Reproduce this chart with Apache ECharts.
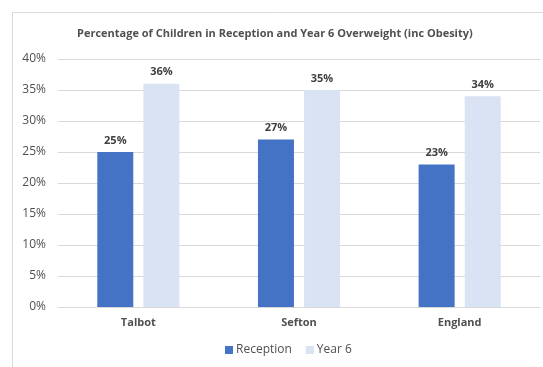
<!DOCTYPE html>
<html>
<head>
<meta charset="utf-8">
<script src="https://cdn.jsdelivr.net/npm/echarts@6/dist/echarts.min.js"></script>
<style>
  html, body { margin: 0; padding: 0; background: #ffffff; }
  #chart { width: 543px; height: 367px; }
</style>
</head>
<body>
<div id="chart"></div>
<script>
// Child weight data by area
const areas = ['Talbot', 'Sefton', 'England'];
const reception = [25, 27, 23];
const year6 = [36, 35, 34];
const seriesNames = ['Reception', 'Year 6'];
const yTicks = { min: 0, max: 40, step: 5 };

const FONT = '"Open Sans", "Liberation Sans", sans-serif';
const chart = echarts.init(document.getElementById('chart'), null, { renderer: 'canvas' });

const labelStyle = {
  show: true,
  position: 'top',
  distance: 6,
  formatter: p => p.value + '%',
  fontFamily: FONT,
  fontWeight: 'bold',
  fontSize: 11,
  color: '#404040'
};

chart.setOption({
  backgroundColor: '#ffffff',
  animation: false,
  title: {
    text: 'Percentage of Children in Reception and Year 6 Overweight (inc Obesity)',
    left: 72,
    top: 23,
    textStyle: { fontFamily: FONT, fontWeight: 'bold', fontSize: 11, color: '#505050' }
  },
  graphic: [
    { type: 'line', shape: { x1: 12.5, y1: 12.5, x2: 543, y2: 12.5 }, style: { stroke: '#d9d9d9', lineWidth: 1 } },
    { type: 'line', shape: { x1: 12.5, y1: 12.5, x2: 12.5, y2: 367 }, style: { stroke: '#d9d9d9', lineWidth: 1 } }
  ],
  legend: {
    data: seriesNames,
    bottom: 6,
    left: 220,
    itemWidth: 8,
    itemHeight: 8,
    itemGap: 14,
    icon: 'rect',
    textStyle: { fontFamily: FONT, fontSize: 12, color: '#505050', padding: [0, 0, 0, -2] }
  },
  grid: { left: 58, right: 3, top: 59, bottom: 60, containLabel: false },
  xAxis: {
    type: 'category',
    data: areas,
    axisLine: { lineStyle: { color: '#d9d9d9', width: 1 } },
    axisTick: { show: false },
    axisLabel: { margin: 10, fontFamily: FONT, fontWeight: 'bold', fontSize: 11, color: '#505050' }
  },
  yAxis: {
    type: 'value',
    min: yTicks.min,
    max: yTicks.max,
    interval: yTicks.step,
    axisLine: { show: false },
    axisTick: { show: false },
    splitLine: { lineStyle: { color: '#d9d9d9', width: 1 } },
    axisLabel: { margin: 12, formatter: '{value}%', fontFamily: FONT, fontSize: 12, color: '#505050' }
  },
  series: [
    {
      name: seriesNames[0],
      type: 'bar',
      data: reception,
      barWidth: 36,
      barGap: '28%',
      itemStyle: { color: '#4472c4' },
      label: labelStyle
    },
    {
      name: seriesNames[1],
      type: 'bar',
      data: year6,
      barWidth: 36,
      itemStyle: { color: '#dae3f3' },
      label: labelStyle
    }
  ]
});
</script>
</body>
</html>
